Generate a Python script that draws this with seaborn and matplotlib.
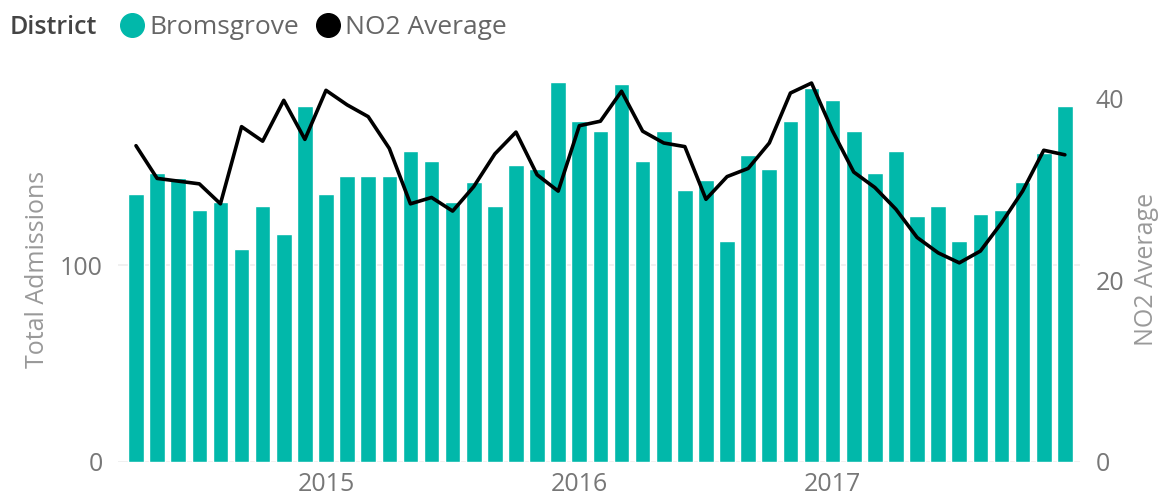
import numpy as np
import pandas as pd
import matplotlib
matplotlib.use("Agg")
import matplotlib.pyplot as plt
import seaborn as sns
from matplotlib.lines import Line2D

# ---- data (monthly, Apr 2014 - Dec 2017) ----
months = pd.date_range("2014-04-01", "2017-12-01", freq="MS")
admissions = [136, 147, 144, 128, 132, 108, 130, 116, 181, 136,
              145, 145, 145, 158, 153, 132, 142, 130, 151, 149,
              193, 173, 168, 192, 153, 168, 138, 143, 112, 156,
              149, 173, 190, 184, 168, 147, 158, 125, 130, 112,
              126, 128, 142, 157, 181]
no2_avg = [34.8, 31.2, 30.9, 30.6, 28.4, 36.9, 35.3, 39.8, 35.5, 40.9,
           39.3, 38.0, 34.5, 28.4, 29.1, 27.6, 30.3, 33.9, 36.3, 31.6,
           29.8, 37.0, 37.5, 40.8, 36.4, 35.1, 34.7, 28.9, 31.4, 32.3,
           35.1, 40.6, 41.7, 36.4, 31.9, 30.2, 27.8, 24.7, 23.0, 21.9,
           23.2, 26.3, 29.8, 34.3, 33.8]
year_labels = ["2015", "2016", "2017"]
year_positions = [list(months).index(pd.Timestamp(f"{y}-01-01")) for y in year_labels]

df = pd.DataFrame({"idx": np.arange(len(months)), "month": months,
                   "admissions": admissions, "no2": no2_avg})

TEAL = "#01B8AA"
TICK = "#777777"
TITLE = "#999999"
FS = 18

sns.set_theme(style="white")
plt.rcParams['font.family'] = ['Open Sans', 'DejaVu Sans']

W, H = 1162, 498
fig = plt.figure(figsize=(W / 100, H / 100), dpi=100)
left_px, right_px, top_px, bot_px = 118, 1080, 78, 461.7
ax = fig.add_axes([left_px / W, 1 - bot_px / H, (right_px - left_px) / W, (bot_px - top_px) / H])

sns.barplot(data=df, x="idx", y="admissions", color=TEAL, saturation=1,
            width=0.74, ax=ax, zorder=2)
ax.set_xlim((left_px - 136) / 21.11, (right_px - 136) / 21.11)
ax.set_ylim(0, (bot_px - top_px) / 1.967)
ax.set_yticks([0, 100])
ax.yaxis.grid(True, color="#EEEEEE", lw=1.2)
ax.set_axisbelow(True)
ax.set_xticks(year_positions)
ax.set_xticklabels(year_labels)
ax.tick_params(axis="both", length=0, colors=TICK, labelsize=FS)
ax.tick_params(axis="x", pad=7.5)
ax.tick_params(axis="y", pad=11)
ax.set_xlabel("")
ax.set_ylabel("Total Admissions", color=TITLE, fontsize=FS, labelpad=7)
for s in ax.spines.values():
    s.set_visible(False)

ax2 = ax.twinx()
sns.lineplot(data=df, x="idx", y="no2", color="black", lw=2.6, ax=ax2)
ax2.set_ylim(0, (bot_px - top_px) / 9.08)
ax2.set_yticks([0, 20, 40])
ax2.tick_params(axis="y", length=0, colors=TICK, labelsize=FS, pad=11)
ax2.set_ylabel("NO2 Average", color=TITLE, fontsize=FS, labelpad=7)
ax2.grid(False)
for s in ax2.spines.values():
    s.set_visible(False)
ax2.set_xlim(ax.get_xlim())

# legend
fig.text(10 / W, 1 - 28 / H, "District", fontsize=18, color="#444444",
         fontweight="semibold", va="center", ha="left")
handles = [Line2D([], [], marker="o", ls="", color=TEAL, markersize=17),
           Line2D([], [], marker="o", ls="", color="black", markersize=17)]
fig.legend(handles, ["Bromsgrove", "NO2 Average"], loc="center left",
           bbox_to_anchor=(116 / W, 1 - 28 / H), ncol=2, frameon=False,
           handletextpad=0.05, columnspacing=0.5, handlelength=1.2,
           fontsize=19, labelcolor="#666666", borderaxespad=0, borderpad=0)

fig.savefig("out.png", dpi=100)
